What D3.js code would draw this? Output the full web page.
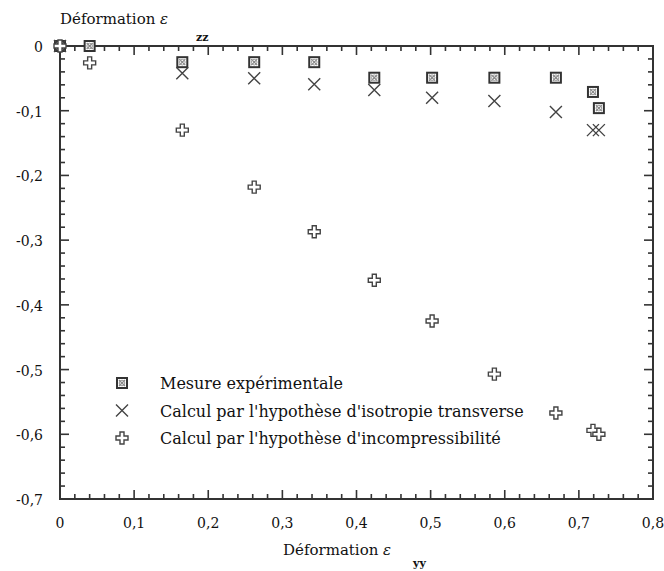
<!DOCTYPE html>
<html>
<head>
<meta charset="utf-8">
<script src="https://cdn.jsdelivr.net/npm/d3@7"></script>
<style>
    body {margin: 0; background: #fff;}
    text {font-family: "DejaVu Serif", "Liberation Serif", serif; fill: #111;}
</style>
</head>
<body>
<div id="chart"></div>
<script>
// data
const xs = [0, 0.04, 0.165, 0.262, 0.343, 0.424, 0.502, 0.586, 0.669, 0.719, 0.727];
const mesure = [0, 0, -0.025, -0.025, -0.025, -0.049, -0.049, -0.049, -0.049, -0.071, -0.096];
const isotropie = [0, null, -0.042, -0.05, -0.059, -0.068, -0.08, -0.085, -0.102, -0.13, -0.13];
const incompress = [0, -0.026, -0.13, -0.218, -0.287, -0.362, -0.425, -0.507, -0.567, -0.594, -0.60];
const legendLabels = ["Mesure expérimentale", "Calcul par l'hypothèse d'isotropie transverse", "Calcul par l'hypothèse d'incompressibilité"];
const xTicks = [0, 0.1, 0.2, 0.3, 0.4, 0.5, 0.6, 0.7, 0.8];
const yTicks = [0, -0.1, -0.2, -0.3, -0.4, -0.5, -0.6, -0.7];

const W = 664, H = 571;
const mLeft = 60, mRight = 653, mTop = 46, mBottom = 499;

const svg = d3.select('#chart').append('svg')
    .attr('width', W).attr('height', H);

const x = d3.scaleLinear().domain([0, 0.8]).range([mLeft, mRight]);
const y = d3.scaleLinear().domain([-0.7, 0]).range([mBottom, mTop]);

const loc = d3.formatLocale({decimal: ",", thousands: " ", grouping: [3], currency: ["", ""], minus: "-"});
const fmt = v => v === 0 ? "0" : loc.format(".1f")(v);

const minorX = d3.range(0, 0.8001, 0.02);
const minorY = d3.range(0, -0.7001, -0.02);

// frame ticks
const g = svg.append('g').attr('stroke', '#333').attr('stroke-width', 1.6);
minorX.forEach((v, i) => {
    const len = i % 5 === 0 ? 9 : 5;
    g.append('line').attr('x1', x(v)).attr('x2', x(v)).attr('y1', mBottom).attr('y2', mBottom - len);
    g.append('line').attr('x1', x(v)).attr('x2', x(v)).attr('y1', mTop).attr('y2', mTop + len);
});
minorY.forEach((v, i) => {
    const len = i % 5 === 0 ? 9 : 5;
    g.append('line').attr('x1', mLeft).attr('x2', mLeft + len).attr('y1', y(v)).attr('y2', y(v));
    g.append('line').attr('x1', mRight).attr('x2', mRight - len).attr('y1', y(v)).attr('y2', y(v));
});
svg.append('rect').attr('x', mLeft).attr('y', mTop)
    .attr('width', mRight - mLeft).attr('height', mBottom - mTop)
    .attr('fill', 'none').attr('stroke', '#333').attr('stroke-width', 2);

// tick labels
svg.append('g').selectAll('text').data(xTicks).join('text')
    .attr('x', d => x(d)).attr('y', 528)
    .attr('text-anchor', 'middle').attr('font-size', 14)
    .text(fmt);
svg.append('g').selectAll('text').data(yTicks).join('text')
    .attr('x', 43).attr('y', d => y(d) + 6)
    .attr('text-anchor', 'end').attr('font-size', 14)
    .text(fmt);

// axis titles
const t1 = svg.append('text').attr('x', 60).attr('y', 24).attr('font-size', 15);
t1.append('tspan').text('Déformation ');
t1.append('tspan').attr('font-style', 'italic').text('ε');
svg.append('text').attr('x', 196).attr('y', 41).attr('font-size', 11).attr('font-weight', 'bold').text('zz');

const t2 = svg.append('text').attr('x', 283).attr('y', 555).attr('font-size', 15);
t2.append('tspan').text('Déformation ');
t2.append('tspan').attr('font-style', 'italic').text('ε');
svg.append('text').attr('x', 413).attr('y', 567).attr('font-size', 11).attr('font-weight', 'bold').text('yy');

// markers
function square(sel) {
    sel.append('rect').attr('x', -5).attr('y', -5).attr('width', 10).attr('height', 10)
        .attr('fill', '#fff').attr('stroke', '#333').attr('stroke-width', 2);
    sel.append('path').attr('d', 'M-3,-3L3,3M3,-3L-3,3')
        .attr('stroke', '#888').attr('stroke-width', 1.2);
    sel.append('circle').attr('r', 2.8).attr('fill', 'none').attr('stroke', '#999').attr('stroke-width', 1);
}
function cross(sel) {
    sel.append('path').attr('d', 'M-6,-6L6,6M6,-6L-6,6')
        .attr('stroke', '#444').attr('stroke-width', 1.4);
}
function plus(sel) {
    sel.append('path').attr('d', 'M-2,-6H2V-2H6V2H2V6H-2V2H-6V-2H-2Z')
        .attr('fill', '#fff').attr('stroke', '#444').attr('stroke-width', 1.4);
}

const series = [
    {vals: mesure, draw: square},
    {vals: isotropie, draw: cross},
    {vals: incompress, draw: plus}
];

series.forEach(s => {
    const pts = xs.map((v, i) => [v, s.vals[i]]).filter(d => d[1] !== null);
    svg.append('g').selectAll('g').data(pts).join('g')
        .attr('transform', d => `translate(${x(d[0])},${y(d[1])})`)
        .each(function() { s.draw(d3.select(this)); });
});

// legend
const leg = svg.append('g');
legendLabels.forEach((lab, i) => {
    const ly = 383 + i * 27.5;
    const m = leg.append('g').attr('transform', `translate(122,${ly})`);
    series[i].draw(m);
    leg.append('text').attr('x', 160).attr('y', ly + 6).attr('font-size', 16).text(lab);
});
</script>
</body>
</html>
